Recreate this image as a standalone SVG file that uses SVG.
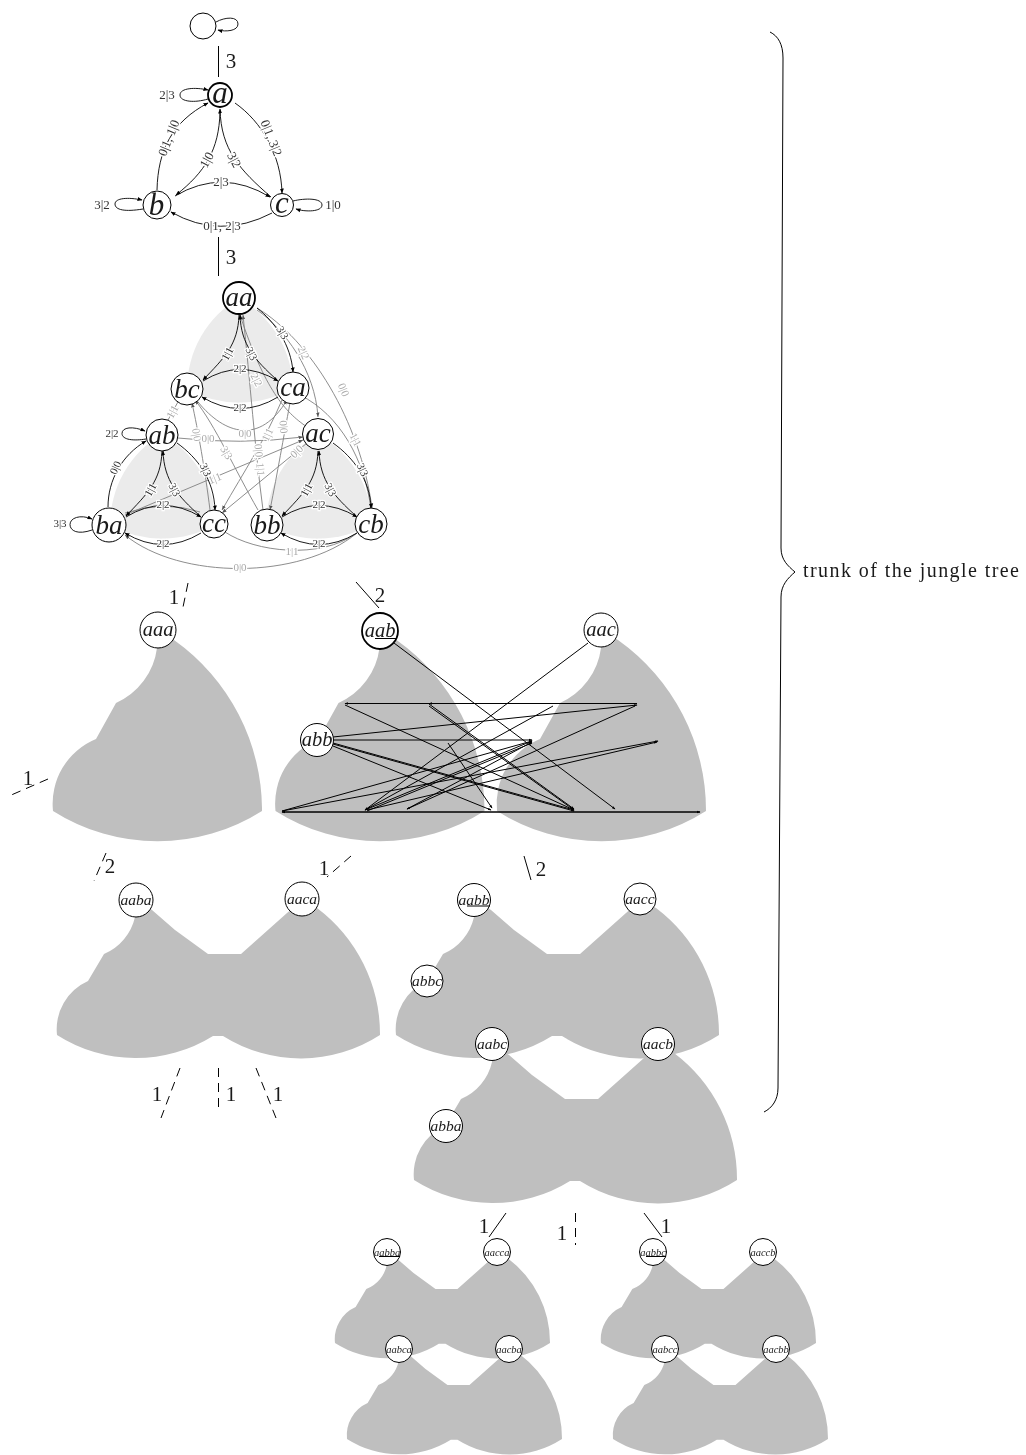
<svg xmlns="http://www.w3.org/2000/svg" xmlns:xlink="http://www.w3.org/1999/xlink" width="1026" height="1455" viewBox="0 0 1026 1455">
<style>
text{font-family:"Liberation Serif","Times New Roman",serif;fill:#1a1a1a;text-anchor:middle}
.n{fill:#fff;stroke:#000;stroke-width:1}
.nb{fill:#fff;stroke:#000;stroke-width:1.8}
.m{font-style:italic}
.t0{font-size:31px}.t1{font-size:27px}.t2{font-size:20.5px}.t3{font-size:15.5px}.t4{font-size:10.5px}
.blob{fill:#bfbfbf;stroke:none}
.lite{fill:#ebebeb;stroke:none}
.e{fill:none;stroke:#000;stroke-width:.9;marker-end:url(#ah)}
.l{fill:none;stroke:#000;stroke-width:1}
.g{fill:none;stroke:#808080;stroke-width:.9;marker-end:url(#ahg)}
.x{fill:none;stroke:#000;stroke-width:1;marker-end:url(#aht)}
.d{stroke:#000;stroke-width:1;fill:none;stroke-dasharray:9 6}
.s{stroke:#000;stroke-width:1;fill:none}
.num{font-size:21px}
.el{font-size:13px;paint-order:stroke;stroke:#fff;stroke-width:3px;fill:#333}
.el2{font-size:11px;paint-order:stroke;stroke:#fff;stroke-width:2.5px;fill:#333}
.elg{font-size:11px;paint-order:stroke;stroke:#fff;stroke-width:2.5px;fill:#aaa}
</style>
<defs>
<marker id="ah" markerWidth="6" markerHeight="5" refX="4.5" refY="2.5" orient="auto" markerUnits="userSpaceOnUse"><path d="M0,.5L5,2.500L0,4.500Z" fill="#000"/></marker>
<marker id="ahg" markerWidth="6" markerHeight="5" refX="4.5" refY="2.5" orient="auto" markerUnits="userSpaceOnUse"><path d="M0,.7L4.500,2.500L0,4.300Z" fill="#555"/></marker>
<marker id="aht" markerWidth="4" markerHeight="4" refX="3" refY="2" orient="auto" markerUnits="userSpaceOnUse"><path d="M0,.8L3.500,2L0,3.200Z" fill="#000"/></marker>
<path id="blobA" class="blob" d="M157,648A70,70 0 0 1 116,703L96,739A70,70 0 0 0 53,811A195,195 0 0 0 262,811A209,209 0 0 0 174,640L157,630Z"/>
<path id="blobB" class="blob" d="M135,917A52.7,52.7 0 0 1 104,954L88,981A52.7,52.7 0 0 0 57,1035A146,146 0 0 0 213,1036L223,1036A146,146 0 0 0 380,1035A158,158 0 0 0 317,908L302,900L287,913L241,954L208,954L175,930L152,910L136,900Z"/>
<g id="tri">
<path class="e" d="M239,315C238,345 224,358 203,380"/>
<path class="e" d="M277,380C255,360 241,345 240,315"/>
<path class="e" d="M203,381Q240,358 278,381"/>
<path class="e" d="M278,397Q240,420 202,397"/>
<text class="el2" transform="translate(228,354) rotate(-62)" y="3">1|1</text>
<text class="el2" transform="translate(251,354) rotate(62)" y="3">3|3</text>
<text class="el2" x="240" y="372">2|2</text>
<text class="el2" x="240" y="411">2|2</text>
</g>
</defs>
<g id="diagram" opacity=".999">
<g id="regions">
<path class="lite" d="M187,389A106,106 0 0 1 239,298A106,106 0 0 1 293,388A106,106 0 0 1 187,389Z"/>
<path class="lite" d="M110,525A106,106 0 0 1 162,434A106,106 0 0 1 216,524A106,106 0 0 1 110,525Z"/>
<path class="lite" d="M266,525A106,106 0 0 1 318,434A106,106 0 0 1 372,524A106,106 0 0 1 266,525Z"/>
<use href="#blobA"/>
<use href="#blobA" x="222.5"/>
<use href="#blobA" x="444"/>
<use href="#blobB"/>
<use href="#blobB" x="339"/>
<use href="#blobB" x="357" y="145"/>
<use href="#blobB" transform="translate(335,1343) scale(.6656) translate(-57,-1035)"/>
<use href="#blobB" transform="translate(347,1439) scale(.6656) translate(-57,-1035)"/>
<use href="#blobB" transform="translate(601,1343) scale(.6656) translate(-57,-1035)"/>
<use href="#blobB" transform="translate(613,1439) scale(.6656) translate(-57,-1035)"/>
</g>

<g id="connectors">
<path class="s" d="M218.500,46V77"/><text class="num" x="231" y="68">3</text>
<path class="s" d="M218.500,237V276"/><text class="num" x="231" y="264">3</text>
<path class="d" d="M188,583L182,612"/><text class="num" x="174" y="604">1</text>
<path class="d" d="M48,779L9,796"/><text class="num" x="28" y="785">1</text>
<path class="s" d="M356,582L379,608"/><text class="num" x="380" y="602">2</text>
<path class="d" d="M106,853L94,881"/><text class="num" x="110" y="873">2</text>
<path class="d" d="M351,856L327,877"/><text class="num" x="324" y="875">1</text>
<path class="s" d="M524,856L531,880"/><text class="num" x="541" y="876">2</text>
<path class="d" d="M180,1068L161,1118"/><text class="num" x="157" y="1101">1</text>
<path class="d" d="M218.500,1068V1113"/><text class="num" x="231" y="1101">1</text>
<path class="d" d="M256,1068L276,1118"/><text class="num" x="278" y="1101">1</text>
<path class="s" d="M506,1213L489,1237"/><text class="num" x="484" y="1233">1</text>
<path class="d" d="M575.500,1213V1245"/><text class="num" x="562" y="1240">1</text>
<path class="s" d="M644,1213L662,1237"/><text class="num" x="666" y="1233">1</text>
<path class="e" d="M216,22C225,17 238,16 238,24C238,31 226,32 218,30"/>
<g id="aut1">
<path class="e" d="M208,99C195,103 180,102 180,95C180,88 195,87 208,90"/>
<path class="e" d="M235,103C262,122 281,155 282,193"/>
<path class="e" d="M157,190C158,150 172,122 208,103"/>
<path class="e" d="M220,112C219,150 205,172 176,195"/>
<path class="e" d="M271,197C240,170 221,150 220,109"/>
<path class="e" d="M175,196Q222,168 270,197"/>
<path class="e" d="M272,213Q220,240 171,212"/>
<path class="e" d="M143,209C125,212 115,210 115,204C115,198 128,197 142,200"/>
<path class="e" d="M293,201C305,198 322,198 322,205C322,212 305,212 296,209"/>
<text class="el" x="167" y="99">2|3</text>
<text class="el" transform="translate(169,138) rotate(-68)" y="4">0|1, 1|0</text>
<text class="el" transform="translate(271,138) rotate(68)" y="4">0|1, 3|2</text>
<text class="el" transform="translate(207,160) rotate(-62)" y="4">1|0</text>
<text class="el" transform="translate(234,160) rotate(62)" y="4">3|2</text>
<text class="el" x="221" y="186">2|3</text>
<text class="el" x="222" y="230">0|1, 2|3</text>
<text class="el" x="102" y="209">3|2</text>
<text class="el" x="333" y="209">1|0</text>
</g>
<g id="aut2g">
<path class="g" d="M257,310C285,330 315,370 318,417"/>
<path class="g" d="M257,308C310,340 360,420 372,508"/>
<path class="g" d="M307,427C285,412 265,390 240,315"/>
<path class="g" d="M263,510C255,450 250,380 243,315"/>
<path class="g" d="M258,510C235,470 215,425 195,400"/>
<path class="g" d="M210,510C205,470 198,430 192,403"/>
<path class="g" d="M198,402C225,435 260,445 287,400"/>
<path class="g" d="M178,438Q240,445 303,437"/>
<path class="g" d="M125,515Q220,475 303,440"/>
<path class="g" d="M307,443L222,513"/>
<path class="g" d="M282,400C265,440 245,470 222,510"/>
<path class="g" d="M290,403C283,440 278,470 270,510"/>
<path class="s" style="stroke:#808080;stroke-width:.9" d="M179,400L168,420"/>
<path class="g" d="M371,510C365,460 340,415 300,395"/>
<path class="s" style="stroke:#808080;stroke-width:.9" d="M225,532C255,552 320,560 357,533"/>
<path class="g" d="M357,533C300,580 180,580 125,535"/>
<path class="s" style="stroke:#808080;stroke-width:.9" d="M125,513Q165,500 200,512"/>
<text class="elg" transform="translate(303,353) rotate(65)" y="3">2|2</text>
<text class="elg" transform="translate(343,390) rotate(68)" y="3">0|0</text>
<text class="elg" transform="translate(256,380) rotate(62)" y="3">2|2</text>
<text class="elg" transform="translate(259,460) rotate(85)" y="3">0|0, 1|1</text>
<text class="elg" transform="translate(226,453) rotate(60)" y="3">3|3</text>
<text class="elg" transform="translate(196,435) rotate(80)" y="3">0|0</text>
<text class="elg" x="245" y="437">0|0</text>
<text class="elg" x="208" y="442">0|0</text>
<text class="elg" transform="translate(215,479) rotate(-22)" y="3">1|1</text>
<text class="elg" transform="translate(297,452) rotate(-45)" y="3">0|0</text>
<text class="elg" transform="translate(268,435) rotate(-65)" y="3">1|1</text>
<text class="elg" transform="translate(283,427) rotate(85)" y="3">0|0</text>
<text class="elg" transform="translate(173,412) rotate(-62)" y="3">1|1</text>
<text class="elg" transform="translate(355,440) rotate(62)" y="3">1|1</text>
<text class="elg" x="292" y="555">1|1</text>
<text class="elg" x="240" y="571">0|0</text>
</g>
<g id="aut2k">
<use href="#tri"/>
<use href="#tri" x="-77" y="136"/>
<use href="#tri" x="79" y="136"/>
<path class="e" d="M257,308C275,322 291,345 293,372"/>
<path class="e" d="M108,507C108,480 122,455 146,441"/>
<path class="e" d="M177,443C198,458 214,480 215,510"/>
<path class="e" d="M333,443C354,458 370,480 371,508"/>
<path class="e" d="M146,439C134,441 122,440 122,433.500C122,427 133,426 145,431"/>
<path class="e" d="M92,530C78,535 70,531 70,524.500C70,518 80,514 92,519"/>
<text class="el2" transform="translate(282,333) rotate(60)" y="3">3|3</text>
<text class="el2" transform="translate(116,468) rotate(-65)" y="3">0|0</text>
<text class="el2" transform="translate(205,470) rotate(65)" y="3">3|3</text>
<text class="el2" transform="translate(362,470) rotate(65)" y="3">3|3</text>
<text class="el2" x="112" y="437">2|2</text>
<text class="el2" x="60" y="527">3|3</text>
</g>
<g id="tangle">
<path class="x" d="M282,812H700"/>
<path class="x" d="M700,812H282"/>
<path class="x" d="M637,703.500H345"/>
<path class="x" d="M637,703.500H429"/>
<path class="x" d="M345,705L574,810"/>
<path class="x" d="M429,706L574,810"/>
<path class="x" d="M429,704L574,809"/>
<path class="x" d="M333,737L637,705"/>
<path class="x" d="M333,740H532"/>
<path class="x" d="M333,743L574,810"/>
<path class="x" d="M333,744L574,811"/>
<path class="x" d="M333,746L491,810"/>
<path class="x" d="M394,643L615,809"/>
<path class="x" d="M588,643L365,810"/>
<path class="x" d="M553,706L365,810"/>
<path class="x" d="M635,706L407,809"/>
<path class="x" d="M282,811L532,741"/>
<path class="x" d="M365,810L532,741"/>
<path class="x" d="M367,811L532,743"/>
<path class="x" d="M282,811L658,741"/>
<path class="x" d="M367,810L657,742"/>
<path class="x" d="M407,809L532,742"/>
<path class="x" d="M448,743L492,808"/>
</g>
<path id="brace" class="s" d="M770,32C778,36 783,44 783,58L781,548C781,560 788,566 795,572C788,578 781,585 781,597L778,1088C778,1100 772,1108 764,1112"/>
</g>

<g id="nodes">
<g id="n-root"><circle class="n" cx="203" cy="26" r="13"/></g>
<g id="n-a"><circle class="nb" cx="220" cy="95" r="12"/><text class="m t0" x="220" y="103">a</text></g>
<g id="n-b"><circle class="n" cx="157" cy="205" r="14"/><text class="m t0" x="156.500" y="215">b</text></g>
<g id="n-c"><circle class="n" cx="282" cy="205" r="11.500"/><text class="m t0" x="282" y="213">c</text></g>
<g id="n-aa"><circle class="nb" cx="239" cy="298" r="16"/><text class="m t1" x="239" y="306">aa</text></g>
<g id="n-bc"><circle class="n" cx="187" cy="389" r="16"/><text class="m t1" x="187" y="398">bc</text></g>
<g id="n-ca"><circle class="n" cx="293" cy="388" r="16"/><text class="m t1" x="293" y="396">ca</text></g>
<g id="n-ab"><circle class="n" cx="162" cy="435" r="16"/><text class="m t1" x="162" y="444">ab</text></g>
<g id="n-ac"><circle class="n" cx="318" cy="434" r="15.500"/><text class="m t1" x="318" y="442">ac</text></g>
<g id="n-ba"><circle class="n" cx="109" cy="525" r="17"/><text class="m t1" x="109" y="534">ba</text></g>
<g id="n-cc"><circle class="n" cx="214" cy="524" r="14"/><text class="m t1" x="214" y="532">cc</text></g>
<g id="n-bb"><circle class="n" cx="267" cy="525" r="16"/><text class="m t1" x="267" y="534">bb</text></g>
<g id="n-cb"><circle class="n" cx="371" cy="524" r="16"/><text class="m t1" x="371" y="533">cb</text></g>
<g id="n-aaa"><circle class="n" cx="158" cy="630" r="18"/><text class="m t2" x="158" y="636">aaa</text></g>
<g id="n-aab"><circle class="nb" cx="380" cy="631" r="18"/><text class="m t2" x="380" y="637">aab</text><path class="l" d="M375,638.500H397"/></g>
<g id="n-aac"><circle class="n" cx="601" cy="630" r="17"/><text class="m t2" x="601" y="636">aac</text></g>
<g id="n-abb"><circle class="n" cx="317" cy="740" r="16.500"/><text class="m t2" x="317" y="746">abb</text></g>
<g id="n-aaba"><circle class="n" cx="136" cy="900" r="17"/><text class="m t3" x="136" y="905">aaba</text></g>
<g id="n-aaca"><circle class="n" cx="302" cy="899" r="17"/><text class="m t3" x="302" y="904">aaca</text></g>
<g id="n-aabb"><circle class="n" cx="474" cy="900" r="16.500"/><text class="m t3" x="474" y="905">aabb</text><path class="l" d="M467,906H490"/></g>
<g id="n-aacc"><circle class="n" cx="640" cy="899" r="16"/><text class="m t3" x="640" y="904">aacc</text></g>
<g id="n-abbc"><circle class="n" cx="427" cy="981" r="16"/><text class="m t3" x="427" y="986">abbc</text></g>
<g id="n-aabc"><circle class="n" cx="492" cy="1044" r="16.500"/><text class="m t3" x="492" y="1049">aabc</text></g>
<g id="n-aacb"><circle class="n" cx="658" cy="1044" r="16.500"/><text class="m t3" x="658" y="1049">aacb</text></g>
<g id="n-abba"><circle class="n" cx="446" cy="1126" r="16.500"/><text class="m t3" x="446" y="1131">abba</text></g>
<g id="n-aabba"><circle class="n" cx="387" cy="1252" r="13.500"/><text class="m t4" x="387" y="1256">aabba</text><path class="l" d="M379,1256.500H400"/></g>
<g id="n-aacca"><circle class="n" cx="497" cy="1252" r="13.500"/><text class="m t4" x="497" y="1256">aacca</text></g>
<g id="n-aabca"><circle class="n" cx="399" cy="1349" r="13.500"/><text class="m t4" x="399" y="1353">aabca</text></g>
<g id="n-aacba"><circle class="n" cx="509" cy="1349" r="13.500"/><text class="m t4" x="509" y="1353">aacba</text></g>
<g id="n-aabbc"><circle class="n" cx="653" cy="1252" r="13.500"/><text class="m t4" x="653" y="1256">aabbc</text><path class="l" d="M646,1256.500H666"/></g>
<g id="n-aaccb"><circle class="n" cx="763" cy="1252" r="13.500"/><text class="m t4" x="763" y="1256">aaccb</text></g>
<g id="n-aabcc"><circle class="n" cx="665" cy="1349" r="13.500"/><text class="m t4" x="665" y="1353">aabcc</text></g>
<g id="n-aacbb"><circle class="n" cx="776" cy="1349" r="13.500"/><text class="m t4" x="776" y="1353">aacbb</text></g>
</g>
<text x="911" y="577" font-size="20px" textLength="216" lengthAdjust="spacing">trunk of the jungle tree</text>
</g>
</svg>
